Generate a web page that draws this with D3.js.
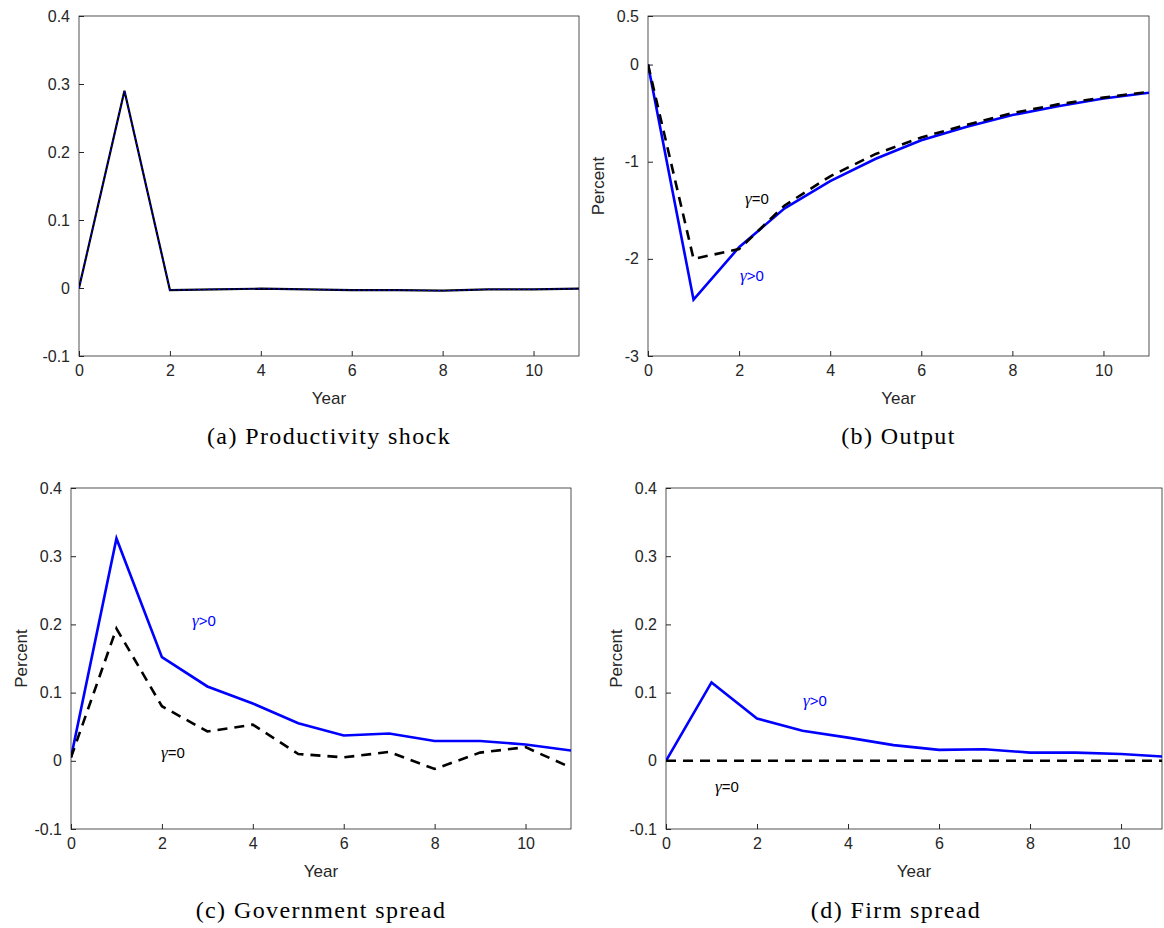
<!DOCTYPE html>
<html><head><meta charset="utf-8">
<script src="https://cdn.jsdelivr.net/npm/d3@7"></script>
<style>body{margin:0;background:#fff}</style></head>
<body><svg id="c" width="1164" height="928"></svg>
<script>
const years=[0,1,2,3,4,5,6,7,8,9,10,11];
const shockBlue=[0,0.29,-0.003,-0.002,-0.001,-0.002,-0.003,-0.003,-0.004,-0.002,-0.002,-0.001];
const shockBlack=[0,0.29,-0.003,-0.002,-0.001,-0.002,-0.003,-0.003,-0.004,-0.002,-0.002,-0.001];
const outBlue=[0,-2.42,-1.88,-1.48,-1.2,-0.97,-0.78,-0.64,-0.52,-0.43,-0.35,-0.29];
const outBlack=[0,-2.0,-1.9,-1.45,-1.15,-0.92,-0.75,-0.62,-0.5,-0.41,-0.34,-0.28];
const govBlue=[0.005,0.326,0.152,0.109,0.084,0.055,0.037,0.040,0.029,0.029,0.024,0.015];
const govBlack=[0.005,0.194,0.08,0.043,0.053,0.01,0.005,0.013,-0.012,0.012,0.02,-0.01];
const firmBlue=[0,0.115,0.062,0.044,0.034,0.023,0.016,0.017,0.012,0.012,0.010,0.006];
const firmBlack=[0,0,0,0,0,0,0,0,0,0,0,0];
const xTicks=[0,2,4,6,8,10];
const spreadTicks=[-0.1,0,0.1,0.2,0.3,0.4];
const outTicks=[-3,-2,-1,0,0.5];
const captions=["(a)  Productivity shock","(b)  Output","(c)  Government spread","(d)  Firm spread"];

const svg=d3.select("#c");
const panels=[
 {x0:79,x1:579,y0:16,y1:356,dom:[-0.1,0.4],ticks:spreadTicks,blue:shockBlue,black:shockBlack,ylab:false,cap:captions[0],capY:436,overlay:true,fmt:d=>d===0?"0":String(d)},
 {x0:648,x1:1149,y0:16,y1:356,dom:[-3,0.5],ticks:outTicks,blue:outBlue,black:outBlack,ylab:true,cap:captions[1],capY:436,fmt:d=>String(d),
  labels:[{t:"γ=0",x:745,y:204,c:"#000"},{t:"γ>0",x:740,y:281,c:"#0000ff"}]},
 {x0:71,x1:571,y0:488,y1:829,dom:[-0.1,0.4],ticks:spreadTicks,blue:govBlue,black:govBlack,ylab:true,cap:captions[2],capY:910,fmt:d=>String(d),
  labels:[{t:"γ>0",x:192,y:626,c:"#0000ff"},{t:"γ=0",x:161,y:758,c:"#000"}]},
 {x0:666,x1:1162,y0:488,y1:829,dom:[-0.1,0.4],ticks:spreadTicks,blue:firmBlue,black:firmBlack,ylab:true,cap:captions[3],capY:910,fmt:d=>String(d),xmax:10.9,
  labels:[{t:"γ>0",x:803,y:706,c:"#0000ff"},{t:"γ=0",x:715,y:792,c:"#000"}]}
];
panels.forEach(p=>{
 const xmax=p.xmax||11;
 const x=d3.scaleLinear().domain([0,xmax]).range([p.x0,p.x1]);
 const y=d3.scaleLinear().domain(p.dom).range([p.y1,p.y0]);
 const g=svg.append("g");
 const clipId="clip"+p.x0+p.y0;
 g.append("clipPath").attr("id",clipId).append("rect").attr("x",p.x0).attr("y",p.y0-5).attr("width",p.x1-p.x0).attr("height",p.y1-p.y0+10);
 g.append("rect").attr("x",p.x0).attr("y",p.y0).attr("width",p.x1-p.x0).attr("height",p.y1-p.y0).attr("fill","none").attr("stroke","#262626").attr("stroke-width",0.8);
 const ax=g.append("g").attr("transform",`translate(0,${p.y1})`).call(d3.axisBottom(x).tickValues(xTicks).tickSize(-5).tickPadding(9).tickFormat(d3.format("d")));
 const ay=g.append("g").attr("transform",`translate(${p.x0},0)`).call(d3.axisLeft(y).tickValues(p.ticks).tickSize(-5).tickPadding(9).tickFormat(p.fmt));
 [ax,ay].forEach(a=>{a.select(".domain").remove();a.selectAll("line").attr("stroke","#262626");a.selectAll("text").attr("font-family","Liberation Sans, Arial").attr("font-size",16).attr("fill","#262626");});
 const line=d3.line().x((d,i)=>x(years[i])).y(d=>y(d));
 const lg=g.append("g").attr("clip-path",`url(#${clipId})`);
 if(p.overlay){
  lg.append("path").attr("d",line(p.black)).attr("fill","none").attr("stroke","#000").attr("stroke-width",2.2);
  lg.append("path").attr("d",line(p.blue)).attr("fill","none").attr("stroke","#0000ff").attr("stroke-width",1.2).attr("stroke-dasharray","2,3");
 } else {
  lg.append("path").attr("d",line(p.blue)).attr("fill","none").attr("stroke","#0000ff").attr("stroke-width",2.6);
  lg.append("path").attr("d",line(p.black)).attr("fill","none").attr("stroke","#000").attr("stroke-width",2.6).attr("stroke-dasharray","10,7");
 }
 g.append("text").attr("x",(p.x0+p.x1)/2).attr("y",p.y1+48).attr("text-anchor","middle").attr("font-family","Liberation Sans, Arial").attr("font-size",17).attr("fill","#262626").text("Year");
 if(p.ylab) g.append("text").attr("transform",`translate(${p.x0-44},${(p.y0+p.y1)/2}) rotate(-90)`).attr("text-anchor","middle").attr("font-family","Liberation Sans, Arial").attr("font-size",17).attr("fill","#262626").text("Percent");
 (p.labels||[]).forEach(l=>{
  const t=g.append("text").attr("x",l.x).attr("y",l.y).attr("font-family","Liberation Sans, Arial").attr("font-size",15).attr("fill",l.c);
  t.append("tspan").attr("font-family","Liberation Serif").attr("font-style","italic").attr("font-size",17).text(l.t[0]);
  t.append("tspan").text(l.t.slice(1));
 });
 g.append("text").attr("x",(p.x0+p.x1)/2 - (p.x1>1160?18:0)).attr("y",p.capY+8).attr("text-anchor","middle").attr("font-family","Liberation Serif, serif").attr("font-size",24).attr("letter-spacing",1.4).attr("fill","#000").text(p.cap);
});
</script></body></html>
